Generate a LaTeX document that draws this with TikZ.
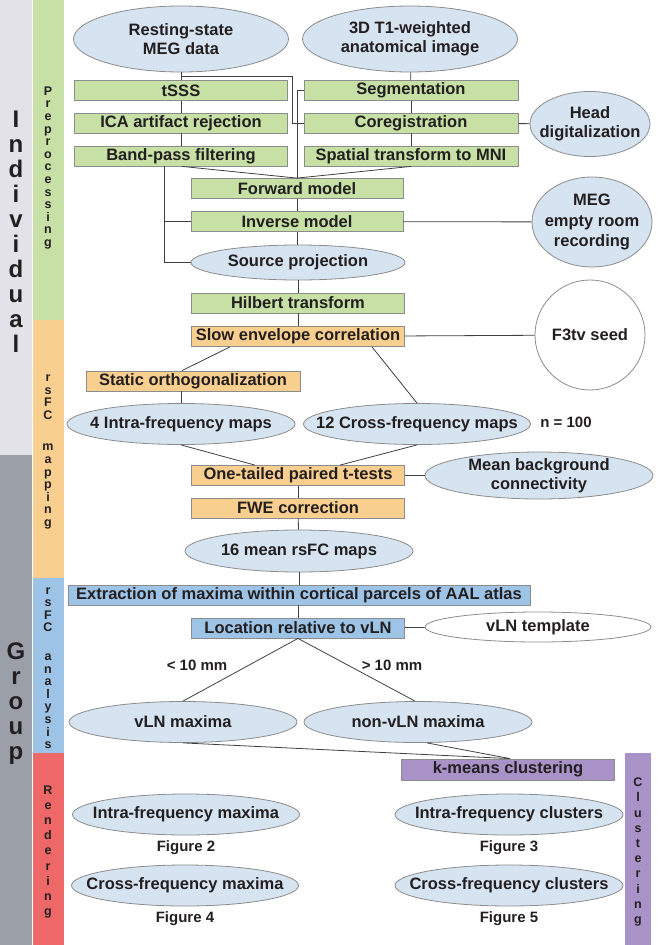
\documentclass[tikz,border=0pt]{standalone}
\usepackage{fontspec}
\setmainfont{Liberation Sans}
\usepackage{tikz}
\usetikzlibrary{positioning,shapes.geometric}

\definecolor{prepgreen}{RGB}{198,224,165}
\definecolor{maporange}{RGB}{249,207,143}
\definecolor{anablue}{RGB}{157,195,230}
\definecolor{ellblue}{RGB}{214,227,240}
\definecolor{cluspurple}{RGB}{168,146,200}
\definecolor{rendred}{RGB}{238,104,104}
\definecolor{indgray}{RGB}{226,226,232}
\definecolor{grpgray}{RGB}{155,160,168}
\definecolor{edgegray}{RGB}{140,140,140}
\definecolor{linkgray}{RGB}{64,64,64}
\definecolor{inkdark}{RGB}{35,31,32}

\newcommand{\boxfont}{\fontsize{16.5}{19}\selectfont\bfseries}
\newcommand{\smallfont}{\fontsize{15}{17}\selectfont\bfseries}
\newcommand{\bigside}{\fontsize{24}{25}\selectfont\bfseries}

\begin{document}
\begin{tikzpicture}[
    x=1pt, y=-1pt,
    every node/.style={text=inkdark},
    box/.style={draw=edgegray, line width=0.8pt, inner sep=0pt, minimum width=213pt, minimum height=20pt, font=\boxfont},
    prepbox/.style={box, fill=prepgreen},
    mapbox/.style={box, fill=maporange},
    anabox/.style={box, fill=anablue},
    clusbox/.style={box, fill=cluspurple},
    databox/.style={ellipse, draw=edgegray, line width=0.8pt, fill=ellblue, inner xsep=-45pt, inner ysep=-9pt, align=center, font=\boxfont, minimum width=228pt, minimum height=41pt},
    sidetext/.style={align=center, font=\fontsize{12.5}{12.6}\selectfont\bfseries},
    figlabel/.style={font=\smallfont, inner sep=0pt},
    link/.style={draw=linkgray, line width=0.8pt}
  ]
    \useasboundingbox (0,0) rectangle (658,945);
    \fill[indgray] (0,0) rectangle (32,455);
    \fill[grpgray] (0,455) rectangle (32,945);
    \fill[prepgreen] (33,0) rectangle (64,320);
    \fill[maporange] (33,320) rectangle (64,578);
    \fill[anablue] (33,578) rectangle (64,753);
    \fill[rendred] (33,753) rectangle (64,945);
    \fill[cluspurple] (625,753) rectangle (651,945);
    \node[align=center, font=\bigside] (individual) at (16,232) {I\\n\\d\\i\\v\\i\\d\\u\\a\\l};
    \node[align=center, font=\bigside] (group) at (16,704) {G\\r\\o\\u\\p};
    \node[sidetext] (preptxt) at (48,168) {P\\r\\e\\p\\r\\o\\c\\e\\s\\s\\i\\n\\g};
    \node[sidetext] (maptxt) at (48,452) {r\\s\\F\\C\\[19pt]m\\a\\p\\p\\i\\n\\g};
    \node[sidetext] (anatxt) at (48,668) {r\\s\\F\\C\\[16pt]a\\n\\a\\l\\y\\s\\i\\s};
    \node[sidetext, font=\fontsize{12.5}{15.2}\selectfont\bfseries] (rendtxt) at (48,852) {R\\e\\n\\d\\e\\r\\i\\n\\g};
    \node[sidetext, font=\fontsize{12.5}{15.2}\selectfont\bfseries] (clustxt) at (638,852) {C\\l\\u\\s\\t\\e\\r\\i\\n\\g};

    \node[databox, minimum width=215pt, minimum height=66pt] (rest) at (181,39) {Resting-state\\MEG data};
    \node[databox, minimum width=215pt, minimum height=66pt] (anat) at (410,39) {3D T1-weighted\\anatomical image};
    \node[prepbox] (tsss) at (181,90.5) {tSSS};
    \node[prepbox] (ica) at (181,123) {ICA artifact rejection};
    \node[prepbox] (bpf) at (181,156) {Band-pass filtering};
    \node[prepbox, minimum width=214pt] (seg) at (411,90.5) {Segmentation};
    \node[prepbox, minimum width=214pt] (coreg) at (411,123) {Coregistration};
    \node[prepbox, minimum width=214pt] (spat) at (411,156) {Spatial transform to MNI};
    \node[databox, minimum width=120pt, minimum height=65pt] (head) at (590,124) {Head\\digitalization};
    \node[prepbox, minimum width=212pt] (fwd) at (297,188.5) {Forward model};
    \node[prepbox, minimum width=212pt] (inv) at (297,221.5) {Inverse model};
    \node[databox, minimum width=120pt, minimum height=90pt, font=\fontsize{16.5}{20.5}\selectfont\bfseries] (meg) at (592,222) {MEG\\empty room\\recording};
    \node[databox, minimum width=214pt, minimum height=35pt] (src) at (298,262.5) {Source projection};
    \node[prepbox] (hilb) at (298,303) {Hilbert transform};
    \node[mapbox] (slow) at (298,336.5) {Slow envelope correlation};
    \node[circle, draw=edgegray, line width=0.8pt, fill=white, inner sep=0pt, minimum size=110pt, font=\boxfont] (seed) at (590,335) {F3tv seed};
    \node[mapbox, minimum width=214pt] (orth) at (193,381) {Static orthogonalization};
    \node[databox] (intra) at (181,424) {4 Intra-frequency maps};
    \node[databox, minimum width=227pt] (cross) at (417,424) {12 Cross-frequency maps};
    \node[font=\smallfont] (ncount) at (566,422) {n = 100};
    \node[mapbox] (ttest) at (298,475.5) {One-tailed paired t-tests};
    \node[databox, minimum height=47pt] (meanbg) at (539,475.5) {Mean background\\connectivity};
    \node[mapbox] (fwe) at (298,508) {FWE correction};
    \node[databox, minimum height=42pt] (mean16) at (299,551) {16 mean rsFC maps};
    \node[anabox, minimum width=462pt] (extr) at (299,595) {Extraction of maxima within cortical parcels of AAL atlas};
    \node[anabox] (loc) at (298,628) {Location relative to vLN};
    \node[databox, fill=white, minimum width=226pt, minimum height=30pt] (tmpl) at (538,627) {vLN template};
    \node[font=\smallfont] (near) at (197,665) {< 10 mm};
    \node[font=\smallfont] (far) at (392,665) {> 10 mm};
    \node[databox] (vlnmax) at (183,722) {vLN maxima};
    \node[databox] (nonvln) at (418,722) {non-vLN maxima};
    \node[clusbox, minimum height=21pt] (kmeans) at (508,769.5) {k-means clustering};
    \node[databox, minimum width=227pt] (intramax) at (186,814.5) {Intra-frequency maxima};
    \node[figlabel, below=5pt of intramax] (fig2) {Figure 2};
    \node[databox, minimum width=227pt] (crossmax) at (185,885.5) {Cross-frequency maxima};
    \node[figlabel, below=5pt of crossmax] (fig4) {Figure 4};
    \node[databox] (intraclus) at (509,814.5) {Intra-frequency clusters};
    \node[figlabel, below=5pt of intraclus] (fig3) {Figure 3};
    \node[databox] (crossclus) at (509,885.5) {Cross-frequency clusters};
    \node[figlabel, below=5pt of crossclus] (fig5) {Figure 5};

    \draw[link] (rest) -- (tsss);
    \draw[link] (rest.south) -- ++(0,3.5) -| ([xshift=-11pt]coreg.west) -- (coreg.west);
    \draw[link] (tsss) -- (ica);
    \draw[link] (ica) -- (bpf);
    \draw[link] (anat) -- (seg);
    \draw[link] (seg) -- (coreg);
    \draw[link] (coreg) -- (spat);
    \draw[link] (coreg) -- (head);
    \draw[link] (seg.west) -| (fwd.north);
    \draw[link] ([xshift=1pt]bpf.south) -- (fwd.north);
    \draw[link] (spat.south) -- (fwd.north);
    \draw[link] ([xshift=-17pt]bpf.south) |- (inv.west);
    \draw[link] ([xshift=-17pt]bpf.south) |- (src.west);
    \draw[link] (fwd) -- (inv);
    \draw[link] (inv) -- (meg);
    \draw[link] (inv.south) -- (inv.south |- src.north);
    \draw[link] (src.south -| hilb.north) -- (hilb.north);
    \draw[link] (hilb) -- (slow);
    \draw[link] (slow) -- (seed);
    \draw[link] ([xshift=-68pt]slow.south) -- ([xshift=-11pt]orth.north);
    \draw[link] ([xshift=74pt]slow.south) -- (cross.north);
    \draw[link] (intra.north) -- (intra.north |- orth.south);
    \draw[link] (intra.south) -- ([xshift=-43pt]ttest.north);
    \draw[link] (cross.south) -- ([xshift=42pt]ttest.north);
    \draw[link] (ttest) -- (meanbg);
    \draw[link] (ttest) -- (fwe);
    \draw[link] (fwe) -- (mean16);
    \draw[link] (mean16.south) -- (mean16.south |- extr.north);
    \draw[link] (extr.south -| loc.north) -- (loc.north);
    \draw[link] (loc) -- (tmpl);
    \draw[link] (loc.south) -- (vlnmax.north);
    \draw[link] (loc.south) -- ([xshift=-3pt]nonvln.north);
    \draw[link] (vlnmax.south) -- ([xshift=2pt]kmeans.north);
    \draw[link] ([xshift=9pt]nonvln.south) -- ([xshift=2pt]kmeans.north);
  \end{tikzpicture}
\end{document}
